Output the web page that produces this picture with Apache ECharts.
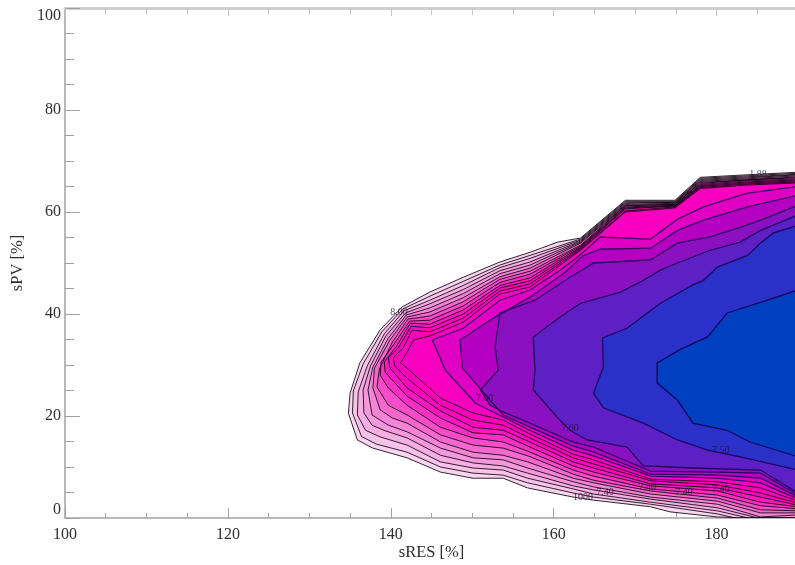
<!DOCTYPE html>
<html>
<head>
<meta charset="utf-8">
<style>
html,body{margin:0;padding:0;background:#fff;overflow:hidden}
#c{width:795px;height:565px;filter:blur(0.7px)}
</style>
<script src="https://cdn.jsdelivr.net/npm/echarts@6/dist/echarts.min.js"></script>
</head>
<body>
<div id="c"></div>
<script>
var xTitle = 'sRES [%]';
var yTitle = 'sPV [%]';

// contour outlines, [sRES, sPV], outermost first
var contour0 = [[190,67.8],[183.8,67.3],[178,66.8],[174.9,62.3],[168.8,62.3],[163.3,54.9],[160.5,54.1],[157.1,52.1],[153.4,50.2],[148.9,47.2],[144.8,44.3],[141.4,41.4],[138.7,36.9],[136.2,30.4],[135,24.5],[134.8,20.5],[135.9,15.3],[137.8,13.7],[142,11.8],[146.1,9],[150.1,7.8],[153.8,7.8],[156.8,5.9],[162.4,4.1],[164.9,3.5],[171.9,2.2],[174.3,1.2],[180.1,0.2],[184.1,0],[190,0]];
var contour1 = [[190,67.6],[183.8,67.1],[178,66.6],[174.9,62.1],[168.8,62.1],[163.3,54.7],[157.1,51.5],[153.4,49.6],[148.9,46.4],[144.8,43.5],[141.5,41],[138.9,36.5],[136.6,30.2],[135.4,24.9],[135.3,20.6],[136.4,16],[138.2,14.5],[142,12.9],[146.1,10],[150.1,8.8],[153.8,8.4],[156.8,6.9],[162.4,4.9],[164.9,4.1],[171.9,2.7],[180.1,0.8],[182.3,0],[190,0]];
var contour2 = [[190,67.4],[183.8,66.9],[178,66.4],[174.9,61.9],[168.8,61.9],[163.3,54.5],[157.1,50.9],[153.4,49.1],[148.9,45.6],[144.8,42.7],[141.6,40.6],[139.2,36.1],[137.1,29.8],[136,24.7],[135.9,20.2],[136.9,17.2],[138.7,15.9],[142,14.3],[146.1,11],[150.1,9.8],[153.8,9.4],[156.8,7.8],[162.4,5.7],[164.9,4.7],[171.9,3.1],[180.1,1.4],[183.9,0],[190,0]];
var contour3 = [[190,67.3],[183.8,66.7],[178,66.2],[174.9,61.9],[168.8,61.7],[163.3,54.3],[157.1,50.2],[153.4,48.5],[148.9,44.8],[144.8,42],[141.8,40.2],[139.4,35.7],[137.5,29.8],[136.6,25.1],[136.7,20.6],[137.7,18.2],[139.3,17.1],[142,15.7],[146.1,12.3],[150.1,10.8],[153.8,10.2],[156.8,8.8],[162.4,6.3],[164.9,5.5],[171.9,3.7],[180.1,2],[185.1,0],[190,0]];
var contour4 = [[190,67.1],[183.8,66.5],[178,66],[174.9,61.7],[168.8,61.5],[163.3,54.1],[157.1,49.6],[153.4,47.9],[148.9,44],[144.8,41.2],[141.9,39.8],[139.7,35.3],[137.8,29.6],[137.2,25.1],[137.7,20.2],[139.7,18.2],[142,16.9],[146.1,13.7],[150.1,11.8],[153.8,11.4],[156.8,9.8],[162.4,7.1],[164.9,6.1],[171.9,4.1],[180.1,2.7],[185.4,0.2],[190,0.6]];
var contour5 = [[190,66.9],[183.8,66.3],[178,65.8],[174.9,61.5],[168.8,61.3],[163.3,53.9],[157.1,49],[153.4,47.3],[148.9,43.2],[144.8,40.4],[142,39.4],[139.9,34.9],[138,29.4],[137.8,25.5],[138.7,21.2],[140.2,19.6],[142,18.6],[146.1,14.9],[150.1,12.9],[153.8,12.3],[156.8,11],[162.4,7.8],[164.9,6.9],[171.9,4.7],[180.1,3.3],[185.4,1],[190,1]];
var contour6 = [[190,66.7],[183.8,66.3],[178,65.6],[174.9,61.5],[168.8,61.2],[163.3,53.5],[157.1,48.4],[153.4,46.8],[148.9,42.4],[144.8,39.6],[142.1,39],[140.2,34.5],[138.6,29.2],[138.3,25.7],[139.7,22.1],[142,20.2],[146.1,16.3],[150.1,14.3],[153.8,13.7],[156.8,12.2],[162.4,8.6],[164.9,7.4],[171.9,5.3],[180.1,3.9],[185.4,1.6],[190,1.4]];
var contour7 = [[190,66.5],[183.8,66.1],[178,65.4],[174.9,61.3],[168.8,61],[163.3,53.3],[157.1,47.8],[153.4,46.2],[148.9,41.6],[144.8,38.8],[142.3,38.6],[140.4,34.1],[138.8,30.6],[138.7,28],[139.7,25.5],[142,22.1],[146.1,17.8],[150.1,15.7],[153.8,14.9],[156.8,13.1],[162.4,9.4],[164.9,8.2],[171.9,5.7],[180.1,4.5],[185.4,2.4],[190,1.8]];
var contour8 = [[190,66.3],[183.8,65.9],[178,65.2],[174.9,61.2],[168.8,60.8],[163.3,53.1],[157.1,47.1],[153.4,45.6],[148.9,40.8],[144.8,38],[142.4,38.2],[140.7,33.7],[139.2,30.6],[139.3,28.6],[142,23.9],[146.1,19.6],[150.1,16.7],[153.8,16.3],[156.8,14.1],[162.4,10.2],[164.9,9],[171.9,6.3],[180.1,5.3],[185.4,3.1],[190,2.2]];
var contour9 = [[190,66.1],[183.8,65.7],[178,65],[174.9,61.2],[168.8,60.6],[163.3,52.9],[157.1,46.5],[153.4,45.1],[148.9,40],[144.8,37.3],[142.5,37.6],[140.9,33.3],[139.7,31.4],[139.9,29.4],[142,25.5],[146.1,21],[150.1,17.8],[153.8,17.2],[156.8,15.1],[162.4,11],[164.9,9.8],[171.9,6.7],[180.1,5.9],[185.4,4.1],[190,2.5]];
var contour10 = [[190,65.9],[183.8,65.5],[178,64.8],[174.9,61],[168.8,60.2],[163.3,52.7],[157.1,45.9],[153.4,44.5],[148.9,39.2],[144.8,36.5],[142.6,36.8],[141.5,33.3],[140.3,31.4],[140.5,29.8],[142,27.4],[146.1,22.1],[150.1,19.2],[153.8,18.2],[156.8,15.9],[162.4,11.8],[164.9,10.6],[171.9,7.3],[180.1,6.5],[185.4,4.9],[190,2.9]];
var contour11 = [[190,65.7],[183.8,65.3],[178,64.6],[174.9,60.8],[168.8,60],[163.3,52.5],[157.1,45.3],[153.4,43.9],[148.9,38.4],[144.8,35.7],[142.8,34.9],[142,32.5],[141.2,30.4],[142,29.4],[146.1,23.5],[150.1,20.6],[153.8,19.2],[156.8,16.7],[162.4,12.5],[164.9,11.4],[171.9,7.6],[180.1,7.1],[185.4,5.9],[190,3.3]];
var contour12 = [[190,65],[183.8,63.7],[178.4,61],[175.2,58.6],[171.9,54.7],[165.7,55.1],[163.9,52.5],[162.7,50.9],[160.8,48.6],[157.1,44.7],[153.4,42.7],[148.9,37.2],[145.1,34.9],[146.7,29],[150.4,22.5],[153.8,19.8],[156.8,17.4],[162.4,13.3],[164.9,12.2],[171.9,8.2],[180.1,7.8],[185.4,6.9],[190,3.7]];
var contour13 = [[190,63.3],[183.8,61],[178.4,58.4],[175.2,56.4],[171.9,52.9],[165.7,52.7],[163.6,51.4],[161.4,48.2],[157.1,43.3],[152.8,39.4],[148.5,34.9],[148.8,29.4],[152.2,23.1],[153.8,20.2],[156.8,18],[162.4,14.1],[164.9,12.9],[171.9,8.6],[180.1,8.4],[185.4,7.8],[190,4.1]];
var contour14 = [[190,61.3],[185.4,58.4],[182.9,57],[179.2,55.1],[175.2,53.9],[171.9,50.6],[164.9,50],[162,47.2],[157.7,42.7],[153.4,40.2],[152.8,33.5],[153.2,29],[151,25.1],[152.2,22.1],[153.8,20.8],[156.8,18.8],[162.4,14.9],[164.9,13.9],[171.9,9.2],[180.1,9],[185.4,8.8],[190,4.5]];
var contour15 = [[190,59.4],[185.4,56.4],[182.9,54.1],[179.2,52.5],[175.2,50],[173.1,48.6],[171,46.6],[168.2,44.3],[163.3,42.1],[160.8,39.4],[157.5,35.5],[157.7,29],[157.5,25.1],[160.4,19.8],[162,17.2],[164.1,15.3],[169,13.9],[171,10.2],[177.1,9.8],[185.4,9.4],[190,4.9]];
var contour16 = [[190,57.4],[187,55.9],[185.4,53.9],[183.8,51.5],[180.1,49.2],[178.4,46.6],[177.1,45.7],[173.1,42.1],[169,37.2],[166,35.3],[166.1,29.6],[164.9,24.5],[166.1,21.6],[171,18.6],[175.2,15.3],[178.9,13.3],[182.9,12],[190,9.4]];
var contour17 = [[190,44.7],[185.4,42.3],[181.3,40.2],[178.9,35.5],[175.6,33.1],[172.7,30.4],[172.7,26.5],[175.2,23.1],[177.1,18.6],[181.3,17.2],[184.1,14.9],[190,12]];

var contours = [contour0,contour1,contour2,contour3,contour4,contour5,contour6,contour7,contour8,contour9,contour10,contour11,contour12,contour13,contour14,contour15,contour16,contour17];

// tiny contour labels
var labelTexts = ['1000','7.40','7.50','7.40','7.40','7.40','8.00','7.60','7.60','1.88'];
var labelX = [163.6,166.3,180.5,171.5,176,180.5,141,151.5,162,185.1];
var labelY = [4.1,5.1,13.3,6,5,5.7,40.4,23.5,17.6,67.3];

var fillColors = ['#fbd5ef','#f9c3e9','#f7aee2','#f599dc','#f684d6','#f768cf','#f84cc9','#fa30c4','#fc18c0','#fe08be','#ff00bc','#f800c0','#e000c4','#b400c0','#8a10c0','#5c20c4','#2a30c8','#0040c0'];
var axisGray = '#a2a2a2';
var textColor = '#2e2e2e';

var chart = echarts.init(document.getElementById('c'), null, {renderer:'canvas'});

function axisBase(extra){
  return Object.assign({
    type:'value',
    axisLine:{show:true,onZero:false,lineStyle:{color:axisGray,width:1.5}},
    splitLine:{show:false}
  },extra);
}

chart.setOption({
  animation:false,
  backgroundColor:'#fff',
  grid:{left:65,top:8,width:733,height:510,outerBoundsMode:'none',containLabel:false},
  xAxis:[
    axisBase({min:100,max:190,interval:20,position:'bottom',
      name:xTitle,nameLocation:'middle',nameGap:35,nameMoveOverlap:false,
      nameTextStyle:{color:textColor,fontFamily:'Liberation Serif',fontSize:16.5,verticalAlign:'middle'},
      axisTick:{inside:true,length:10,lineStyle:{color:axisGray}},
      minorTick:{show:true,splitNumber:4,length:5,lineStyle:{color:axisGray}},
      axisLabel:{color:textColor,fontFamily:'Liberation Serif',fontSize:16,margin:9,showMaxLabel:false}}),
    axisBase({min:100,max:190,interval:20,position:'top',
      axisLine:{show:true,onZero:false,lineStyle:{color:'#cfcfcf',width:3}},
      axisTick:{inside:true,length:8,lineStyle:{color:'#c4c4c4'}},
      minorTick:{show:true,splitNumber:4,length:7,lineStyle:{color:'#c4c4c4'}},
      axisLabel:{show:false}})
  ],
  yAxis:[
    axisBase({min:0,max:100,interval:20,position:'left',
      name:yTitle,nameLocation:'middle',nameGap:47,nameMoveOverlap:false,
      nameTextStyle:{color:textColor,fontFamily:'Liberation Serif',fontSize:16.5,verticalAlign:'middle'},
      axisTick:{inside:true,length:15,lineStyle:{color:axisGray}},
      minorTick:{show:true,splitNumber:4,length:9,lineStyle:{color:axisGray}},
      axisLabel:{color:textColor,fontFamily:'Liberation Serif',fontSize:16,margin:4,
        verticalAlignMinLabel:'bottom',verticalAlignMaxLabel:'top'}})
  ],
  series:[
    {
      name:'fills',
      type:'custom',
      coordinateSystem:'cartesian2d',
      xAxisIndex:0,yAxisIndex:0,
      clip:true,
      silent:true,
      encode:{x:0,y:1},
      data:contours.map(function(c,i){return [c[0][0],c[0][1],i];}),
      renderItem:function(params,api){
        var i = api.value(2);
        var pts = contours[i].map(function(p){return api.coord(p);});
        return {type:'polygon',shape:{points:pts},style:{fill:fillColors[i],stroke:null}};
      }
    },
    {
      name:'lines',
      type:'custom',
      coordinateSystem:'cartesian2d',
      xAxisIndex:0,yAxisIndex:0,
      clip:true,
      silent:true,
      encode:{x:0,y:1},
      data:contours.map(function(c,i){return [c[0][0],c[0][1],i];}),
      renderItem:function(params,api){
        var i = api.value(2);
        var pts = contours[i].map(function(p){return api.coord(p);});
        return {type:'polyline',shape:{points:pts},
          style:{fill:null,stroke:i<12?'rgba(10,5,15,0.85)':'rgba(20,0,80,0.85)',lineWidth:i<12?1:1.3}};
      }
    },
    {
      type:'scatter',
      xAxisIndex:0,yAxisIndex:0,
      symbolSize:0,
      silent:true,
      data:labelX.map(function(x,i){return [x,labelY[i],labelTexts[i]];}),
      label:{show:true,position:'inside',formatter:function(p){return p.value[2];},
        fontFamily:'Liberation Serif',fontSize:10,color:'#2a1030'}
    }
  ]
});
</script>
</body>
</html>
